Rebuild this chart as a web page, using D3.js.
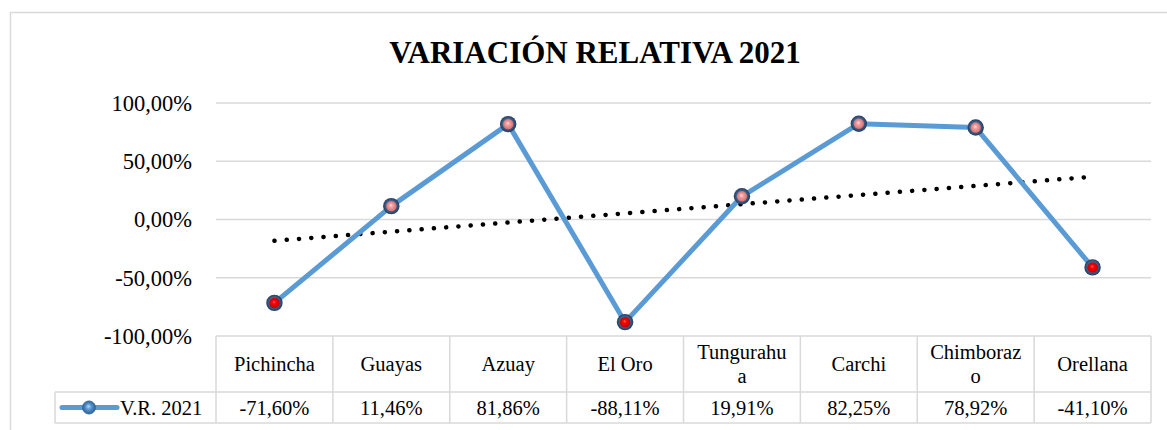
<!DOCTYPE html>
<html lang="es">
<head>
<meta charset="UTF-8">
<title>Variación relativa 2021</title>
<script src="https://d3js.org/d3.v7.min.js"></script>
<style>
  body { margin: 0; background: #fff; }
</style>
</head>
<body>
<script>
const categories = ["Pichincha", "Guayas", "Azuay", "El Oro", "Tungurahua", "Carchi", "Chimborazo", "Orellana"];
const values = [-71.60, 11.46, 81.86, -88.11, 19.91, 82.25, 78.92, -41.10];
const yTicks = [-100, -50, 0, 50, 100];
const seriesName = "V.R. 2021";
const title = "VARIACIÓN RELATIVA 2021";

const width = 1167, height = 430;
const grid = "#d9d9d9";
const lineBlue = "#5b9bd5";

const fmt = v => d3.format(".2f")(v).replace(".", ",").replace("\u2212", "-") + "%";

const svg = d3.select("body").append("svg")
    .attr("width", width)
    .attr("height", height)
    .attr("font-family", "'Liberation Serif', 'Times New Roman', Tinos, 'DejaVu Serif', serif")
    .attr("fill", "#000");

const defs = svg.append("defs");
function sphere(id, stops) {
    const g = defs.append("radialGradient").attr("id", id)
        .attr("cx", "50%").attr("cy", "50%").attr("r", "50%")
        .attr("fx", "45%").attr("fy", "40%");
    stops.forEach(s => g.append("stop").attr("offset", s[0]).attr("stop-color", s[1]));
}
sphere("neg", [["0%", "#ff6060"], ["35%", "#ff0000"], ["100%", "#c00000"]]);
sphere("pos", [["0%", "#ffe0e0"], ["35%", "#f4a0a0"], ["100%", "#d07070"]]);
sphere("rim", [["0%", "#7fa6d6"], ["55%", "#46699a"], ["100%", "#243c5c"]]);
sphere("blue", [["0%", "#bcd8f4"], ["40%", "#5b9bd5"], ["100%", "#2e5f90"]]);

// chart frame
svg.append("rect")
    .attr("x", 10.5).attr("y", 12.5)
    .attr("width", width + 10).attr("height", height)
    .attr("fill", "none").attr("stroke", grid).attr("stroke-width", 1.5);

svg.append("text")
    .attr("x", 595).attr("y", 63)
    .attr("text-anchor", "middle")
    .attr("font-size", 31).attr("font-weight", "bold")
    .text(title);

const x = d3.scaleBand().domain(categories).range([216, 1151]);
const y = d3.scaleLinear().domain([-100, 100]).range([336, 103]);
const cx = d => x(d) + x.bandwidth() / 2;

// gridlines
svg.append("g").selectAll("line")
    .data(yTicks.filter(t => t > -100))
    .join("line")
    .attr("x1", x.range()[0]).attr("x2", x.range()[1])
    .attr("y1", d => y(d)).attr("y2", d => y(d))
    .attr("stroke", grid).attr("stroke-width", 1.5);

// y tick labels
svg.append("g").selectAll("text")
    .data(yTicks)
    .join("text")
    .attr("x", 192).attr("y", d => y(d))
    .attr("dy", "0.35em")
    .attr("text-anchor", "end")
    .attr("font-size", 22.5)
    .text(fmt);

// data table
const rowTop = y(-100), rowMid = 392, rowBot = 423;
const tbl = svg.append("g").attr("stroke", grid).attr("stroke-width", 1.5);
tbl.append("line").attr("x1", x.range()[0]).attr("x2", x.range()[1]).attr("y1", rowTop).attr("y2", rowTop);
tbl.append("line").attr("x1", 55).attr("x2", x.range()[1]).attr("y1", rowMid).attr("y2", rowMid);
tbl.append("line").attr("x1", 55).attr("x2", x.range()[1]).attr("y1", rowBot).attr("y2", rowBot);
tbl.append("line").attr("x1", 55).attr("x2", 55).attr("y1", rowMid).attr("y2", rowBot);
tbl.selectAll("line.v")
    .data(categories.map(c => x(c)).concat([x.range()[1]]))
    .join("line").attr("class", "v")
    .attr("x1", d => d).attr("x2", d => d)
    .attr("y1", rowTop).attr("y2", rowBot);

// header labels, wrapped by character like the spreadsheet does
const head = svg.append("g").selectAll("text")
    .data(categories)
    .join("text")
    .attr("text-anchor", "middle")
    .attr("font-size", 20.5)
    .attr("x", d => cx(d));
head.each(function(d) {
    const t = d3.select(this);
    const probe = t.append("tspan").text(d);
    let lines = [d];
    if (probe.node().getComputedTextLength() > 96) {
        let cut = d.length - 1;
        probe.text(d.slice(0, cut));
        while (probe.node().getComputedTextLength() > 96 && cut > 1) {
            cut--;
            probe.text(d.slice(0, cut));
        }
        lines = [d.slice(0, cut), d.slice(cut)];
    }
    probe.remove();
    const mid = (rowTop + rowMid) / 2;
    lines.forEach((l, i) => {
        t.append("tspan")
            .attr("x", cx(d))
            .attr("y", mid + (i - (lines.length - 1) / 2) * 24)
            .attr("dy", "0.35em")
            .text(l);
    });
});

// value row
svg.append("g").selectAll("text")
    .data(values)
    .join("text")
    .attr("x", (d, i) => cx(categories[i]))
    .attr("y", (rowMid + rowBot) / 2)
    .attr("dy", "0.35em")
    .attr("text-anchor", "middle")
    .attr("font-size", 20.5)
    .text(fmt);

// legend key
const ly = (rowMid + rowBot) / 2;
svg.append("line")
    .attr("x1", 62).attr("x2", 117).attr("y1", ly).attr("y2", ly)
    .attr("stroke", lineBlue).attr("stroke-width", 5).attr("stroke-linecap", "round");
svg.append("circle").attr("cx", 89).attr("cy", ly).attr("r", 6.5)
    .attr("fill", "url(#blue)").attr("stroke", "#3a6a9c").attr("stroke-width", 1);
svg.append("text")
    .attr("x", 120).attr("y", ly).attr("dy", "0.35em")
    .attr("font-size", 20.5)
    .text(seriesName);

// linear trendline (least squares over category index)
const idx = values.map((v, i) => i);
const mx = d3.mean(idx), my = d3.mean(values);
const slope = d3.sum(idx, i => (i - mx) * (values[i] - my)) / d3.sum(idx, i => (i - mx) ** 2);
const icpt = my - slope * mx;
svg.append("line")
    .attr("x1", cx(categories[0])).attr("y1", y(icpt))
    .attr("x2", cx(categories[categories.length - 1])).attr("y2", y(icpt + slope * (categories.length - 1)))
    .attr("stroke", "#000").attr("stroke-width", 4.5)
    .attr("stroke-linecap", "round").attr("stroke-dasharray", "0.1 12.2");

// series line
svg.append("path")
    .datum(values)
    .attr("fill", "none")
    .attr("stroke", lineBlue).attr("stroke-width", 5)
    .attr("stroke-linejoin", "round")
    .attr("d", d3.line().x((d, i) => cx(categories[i])).y(d => y(d)));

// markers
const mk = svg.append("g").selectAll("g")
    .data(values)
    .join("g")
    .attr("transform", (d, i) => `translate(${cx(categories[i])},${y(d)})`);
mk.append("circle").attr("r", 8.2).attr("fill", "url(#rim)");
mk.append("circle").attr("r", 5.2).attr("fill", d => d < 0 ? "url(#neg)" : "url(#pos)");
</script>
</body>
</html>
